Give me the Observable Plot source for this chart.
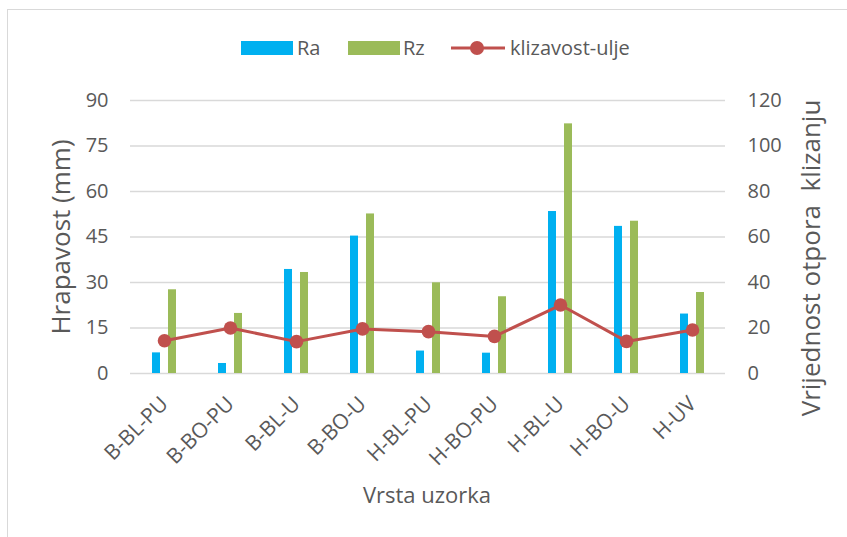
<!DOCTYPE html>
<html><head><meta charset="utf-8">
<script src="https://cdn.jsdelivr.net/npm/d3@7"></script>
<script src="https://cdn.jsdelivr.net/npm/@observablehq/plot@0.6"></script>
<style>
html,body{margin:0;padding:0;background:#fff;}
#wrap{position:relative;width:847px;height:537px;overflow:hidden;font-family:"Open Sans",sans-serif;color:#595959;}
#frame{position:absolute;left:7px;top:9px;width:900px;height:600px;border:1px solid #d9d9d9;box-sizing:border-box;}
#chart{position:absolute;left:0;top:0;}
</style></head>
<body><div id="wrap"><div id="frame"></div><div id="chart"></div></div>
<script>
const categories = ["B-BL-PU","B-BO-PU","B-BL-U","B-BO-U","H-BL-PU","H-BO-PU","H-BL-U","H-BO-U","H-UV"];
const ra = [6.8, 3.3, 34.3, 45.3, 7.4, 6.7, 53.4, 48.5, 19.6];
const rz = [27.6, 19.8, 33.3, 52.6, 29.9, 25.3, 82.3, 50.2, 26.7];
const klizavost = [14.4, 20.0, 14.0, 19.6, 18.4, 16.3, 30.1, 14.1, 19.1];
const leftTicks = [0, 15, 30, 45, 60, 75, 90];
const rightTicks = [0, 20, 40, 60, 80, 100, 120];
const seriesNames = ["Ra", "Rz", "klizavost-ulje"];
const colors = ["#00B0F0", "#9BBB59", "#C0504D"];

const k = 90 / 120;
const rows = categories.map((c, i) => ({c, ra: ra[i], rz: rz[i], kl: klizavost[i] * k}));

const plot = Plot.plot({
  width: 847, height: 537,
  marginLeft: 130, marginRight: 122, marginTop: 100, marginBottom: 164,
  style: {fontFamily: "'Open Sans', sans-serif", fontSize: "20px", color: "#595959", background: "transparent", overflow: "visible"},
  x: {type: "band", domain: categories, padding: 0, axis: null},
  y: {domain: [0, 90], axis: null},
  marks: [
    Plot.gridY(leftTicks, {stroke: "#d9d9d9", strokeOpacity: 1, strokeWidth: 1.6}),
    Plot.barY(rows, {x: "c", y: "ra", fill: colors[0], insetLeft: 21, insetRight: 37}),
    Plot.barY(rows, {x: "c", y: "rz", fill: colors[1], insetLeft: 37, insetRight: 21}),
    Plot.line(rows, {x: "c", y: "kl", stroke: colors[2], strokeWidth: 3}),
    Plot.dot(rows, {x: "c", y: "kl", fill: colors[2], r: 6.8}),
    Plot.axisY(leftTicks, {anchor: "left", tickSize: 0, tickPadding: 22, label: null, fontSize: 20, fill: "#595959"}),
    Plot.axisY(rightTicks.map(t => t * k), {anchor: "right", tickSize: 0, tickPadding: 22, label: null, fontSize: 20, fill: "#595959", tickFormat: d => Math.round(d / k)}),
    Plot.text(categories, {x: d => d, frameAnchor: "bottom", dy: 27, dx: 0, rotate: -45, textAnchor: "end", lineAnchor: "middle", fontSize: 21, fill: "#595959"})
  ]
});
document.getElementById("chart").appendChild(plot);

const svg = d3.select(plot);
const font = "'Open Sans', sans-serif";
// axis titles
svg.append("text").attr("transform", "translate(70,237) rotate(-90)").attr("text-anchor", "middle")
  .style("font-family", font).style("font-size", "26px").attr("fill", "#595959").text("Hrapavost (mm)");
svg.append("text").attr("transform", "translate(820,258) rotate(-90)").attr("text-anchor", "middle")
  .style("font-family", font).style("font-size", "26px").attr("fill", "#595959").style("white-space", "pre").text("Vrijednost otpora  klizanju");
svg.append("text").attr("x", 427).attr("y", 503).attr("text-anchor", "middle")
  .style("font-family", font).style("font-size", "22px").attr("fill", "#595959").text("Vrsta uzorka");

// legend
const lg = svg.append("g").style("font-family", font).style("font-size", "20px").attr("fill", "#595959").attr("text-anchor", "start");
lg.append("rect").attr("x", 241).attr("y", 41).attr("width", 52).attr("height", 14).attr("fill", colors[0]);
lg.append("text").attr("x", 297).attr("y", 55).text(seriesNames[0]);
lg.append("rect").attr("x", 348).attr("y", 41).attr("width", 52).attr("height", 14).attr("fill", colors[1]);
lg.append("text").attr("x", 403).attr("y", 55).text(seriesNames[1]);
lg.append("line").attr("x1", 451).attr("x2", 505).attr("y1", 48).attr("y2", 48).attr("stroke", colors[2]).attr("stroke-width", 3);
lg.append("circle").attr("cx", 477).attr("cy", 48).attr("r", 7).attr("fill", colors[2]);
lg.append("text").attr("x", 510).attr("y", 55).text(seriesNames[2]);
</script></body></html>
